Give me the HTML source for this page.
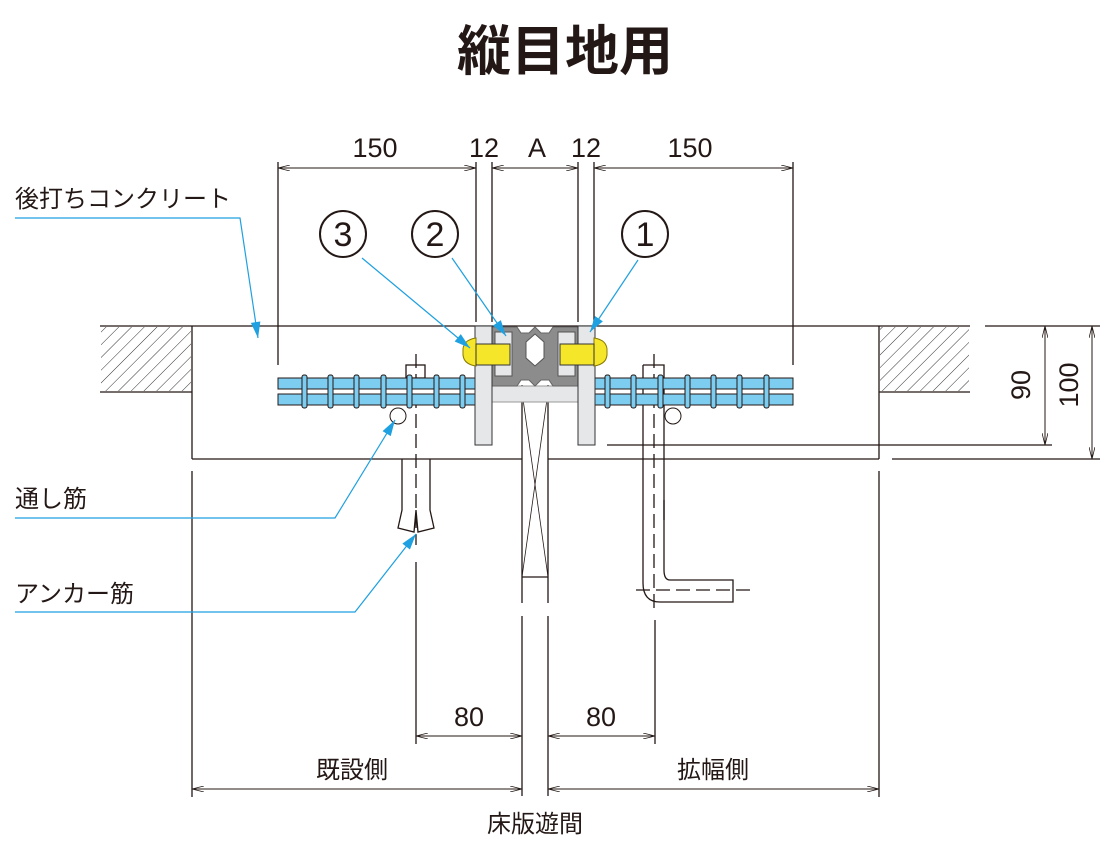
<!DOCTYPE html>
<html><head><meta charset="utf-8"><style>
body{margin:0;background:#fff}
svg text{font-family:"Liberation Sans","Noto Sans CJK JP",sans-serif;fill:#231815}
</style></head><body>
<svg width="1113" height="854" viewBox="0 0 1113 854" xmlns="http://www.w3.org/2000/svg">
<defs>
<pattern id="h" width="9" height="9" patternUnits="userSpaceOnUse" patternTransform="rotate(45)">
<line x1="0" y1="0" x2="0" y2="9" stroke="#333" stroke-width="1"/></pattern>
<marker id="a" viewBox="0 0 12 6" refX="12" refY="3" markerWidth="12" markerHeight="6" orient="auto-start-reverse"><path d="M0,0L12,3L0,6" fill="none" stroke="#231815" stroke-width="0.8"/></marker>
<marker id="b" viewBox="0 0 10 6" refX="10" refY="3" markerWidth="14" markerHeight="8" orient="auto"><path d="M0,0L10,3L0,6z" fill="#1fa0e0"/></marker>
</defs>
<text x="565" y="70" font-size="54" font-weight="bold" text-anchor="middle">縦目地用</text>
<g stroke="#231815" stroke-width="1.3" fill="none">
<line x1="278" y1="162" x2="278" y2="365"/><line x1="793" y1="162" x2="793" y2="365"/>
<line x1="476" y1="162" x2="476" y2="322"/><line x1="492" y1="162" x2="492" y2="322"/>
<line x1="578" y1="162" x2="578" y2="322"/><line x1="594" y1="162" x2="594" y2="322"/>
<line x1="278" y1="168" x2="476" y2="168" marker-start="url(#a)" marker-end="url(#a)" stroke-width="1"/>
<line x1="492" y1="168" x2="578" y2="168" marker-start="url(#a)" marker-end="url(#a)" stroke-width="1"/>
<line x1="594" y1="168" x2="793" y2="168" marker-start="url(#a)" marker-end="url(#a)" stroke-width="1"/>
<line x1="100" y1="326" x2="970" y2="326"/><line x1="985" y1="326" x2="1100" y2="326"/>
<line x1="100" y1="392" x2="192" y2="392"/><line x1="879" y1="392" x2="970" y2="392"/>
<line x1="192" y1="326" x2="192" y2="459"/><line x1="879" y1="326" x2="879" y2="459"/>
<line x1="192" y1="459" x2="522" y2="459"/><line x1="548" y1="459" x2="879" y2="459"/>
<line x1="892" y1="459" x2="1100" y2="459"/><line x1="607" y1="445" x2="1052" y2="445"/>
<line x1="1045" y1="326" x2="1045" y2="445" marker-start="url(#a)" marker-end="url(#a)" stroke-width="1"/>
<line x1="1092" y1="326" x2="1092" y2="459" marker-start="url(#a)" marker-end="url(#a)" stroke-width="1"/>
<line x1="192" y1="471" x2="192" y2="797"/><line x1="879" y1="471" x2="879" y2="797"/>
<line x1="522" y1="385" x2="522" y2="603"/><line x1="548" y1="385" x2="548" y2="603"/>
<line x1="522" y1="616" x2="522" y2="796"/><line x1="548" y1="616" x2="548" y2="796"/>
<line x1="416" y1="562" x2="416" y2="744"/><line x1="655" y1="620" x2="655" y2="744"/>
<line x1="416" y1="736" x2="522" y2="736" marker-start="url(#a)" marker-end="url(#a)" stroke-width="1"/>
<line x1="548" y1="736" x2="655" y2="736" marker-start="url(#a)" marker-end="url(#a)" stroke-width="1"/>
<line x1="192" y1="789" x2="522" y2="789" marker-start="url(#a)" marker-end="url(#a)" stroke-width="1"/>
<line x1="548" y1="789" x2="879" y2="789" marker-start="url(#a)" marker-end="url(#a)" stroke-width="1"/>
<line x1="522" y1="392" x2="548" y2="577" stroke-width="0.8"/><line x1="548" y1="392" x2="522" y2="577" stroke-width="0.8"/>
<line x1="522" y1="577" x2="548" y2="577"/>
<rect x="406" y="365" width="19" height="13"/>
<path d="M402,459V510L398,528L414,532L416,510L418,532L434,528L430,510V459"/>
<path d="M643,365H664V520" /><path d="M643,365V583Q643,602 660,602H733V580H670Q664,580 664,570V500"/>
<circle cx="398" cy="416" r="8" stroke-width="1"/><circle cx="673" cy="416" r="8" stroke-width="1"/>
<line x1="416" y1="354" x2="416" y2="545" stroke-dasharray="14,6"/>
<line x1="654" y1="354" x2="654" y2="608" stroke-dasharray="14,6"/>
<line x1="636" y1="590" x2="753" y2="590" stroke-dasharray="14,6"/>
</g>
<rect x="101" y="327" width="90" height="64" fill="url(#h)"/>
<rect x="880" y="327" width="89" height="64" fill="url(#h)"/>
<g stroke="#231815" stroke-width="1">
<rect x="278" y="378" width="197" height="11" fill="#7dcdf0"/><rect x="278" y="394" width="197" height="11" fill="#7dcdf0"/>
<rect x="595" y="378" width="198" height="11" fill="#7dcdf0"/><rect x="595" y="394" width="198" height="11" fill="#7dcdf0"/>
<g fill="#7dcdf0">
<rect x="302" y="375" width="5" height="33" rx="2"/><rect x="328" y="375" width="5" height="33" rx="2"/><rect x="354" y="375" width="5" height="33" rx="2"/><rect x="381" y="375" width="5" height="33" rx="2"/><rect x="407" y="375" width="5" height="33" rx="2"/><rect x="434" y="375" width="5" height="33" rx="2"/><rect x="460" y="375" width="5" height="33" rx="2"/>
<rect x="605" y="375" width="5" height="33" rx="2"/><rect x="631" y="375" width="5" height="33" rx="2"/><rect x="658" y="375" width="5" height="33" rx="2"/><rect x="685" y="375" width="5" height="33" rx="2"/><rect x="711" y="375" width="5" height="33" rx="2"/><rect x="737" y="375" width="5" height="33" rx="2"/><rect x="764" y="375" width="5" height="33" rx="2"/>
</g></g>
<!-- joint -->
<rect x="492" y="386" width="86" height="16" fill="#e6e7e8" stroke="#999"/>
<path d="M492,327H517L521,333H529L535,327L541,333H549L553,327H578V386H553L549,380H541L535,386L529,380H521L517,386H492Z" fill="#8c8c8c" stroke="#666"/>
<path d="M526,342L535,334L544,342V358L535,366L526,358Z" fill="#fff" stroke="#555"/>
<rect x="495" y="332" width="17" height="44" fill="#e6e7e8" stroke="#555"/><rect x="558" y="332" width="17" height="44" fill="#e6e7e8" stroke="#555"/>
<rect x="475" y="326" width="17" height="119" fill="#e6e7e8" stroke="#333"/>
<rect x="578" y="326" width="17" height="119" fill="#e6e7e8" stroke="#333"/>
<path d="M476,338Q462,340 463,352Q462,364 476,366Z" fill="#f5e62a" stroke="#8a7a00"/>
<path d="M594,338Q608,340 607,352Q608,364 594,366Z" fill="#f5e62a" stroke="#8a7a00"/>
<rect x="476" y="344" width="34" height="21" fill="#f5e62a" stroke="#333"/>
<rect x="560" y="344" width="34" height="21" fill="#f5e62a" stroke="#333"/>
<g stroke="#1fa0e0" stroke-width="1.2" fill="none">
<polyline points="15,218 240,218 258,338" marker-end="url(#b)"/>
<polyline points="15,518 335,518 395,420" marker-end="url(#b)"/>
<polyline points="15,612 355,612 416,534" marker-end="url(#b)"/>
<line x1="362" y1="258" x2="470" y2="348" marker-end="url(#b)"/>
<line x1="452" y1="258" x2="506" y2="336" marker-end="url(#b)"/>
<line x1="638" y1="260" x2="590" y2="332" marker-end="url(#b)"/>
</g>
<g stroke="#231815" stroke-width="2" fill="none">
<circle cx="343" cy="234" r="23"/><circle cx="435" cy="234" r="23"/><circle cx="645" cy="234" r="23"/>
</g>
<g font-size="34" text-anchor="middle"><text x="343" y="246">3</text><text x="435" y="246">2</text><text x="645" y="246">1</text></g>
<g font-size="27" text-anchor="middle">
<text x="375" y="157">150</text><text x="484" y="157">12</text><text x="537" y="157">A</text><text x="586" y="157">12</text><text x="690" y="157">150</text>
<text x="469" y="726">80</text><text x="601" y="726">80</text>
<text x="1030" y="385" transform="rotate(-90 1030 385)">90</text>
<text x="1078" y="385" transform="rotate(-90 1078 385)">100</text>
</g>
<g font-size="24">
<text x="15" y="207">後打ちコンクリート</text>
<text x="15" y="507">通し筋</text>
<text x="15" y="602">アンカー筋</text>
<text x="352" y="778" text-anchor="middle">既設側</text>
<text x="713" y="778" text-anchor="middle">拡幅側</text>
<text x="535" y="832" text-anchor="middle">床版遊間</text>
</g>
</svg>
</body></html>
